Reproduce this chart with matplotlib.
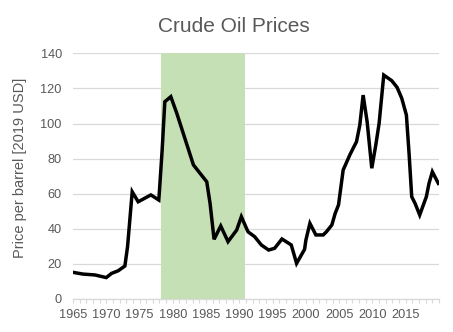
import matplotlib.pyplot as plt
import matplotlib as mpl
from matplotlib.ticker import MultipleLocator

mpl.rcParams['font.family'] = ['Liberation Sans', 'DejaVu Sans']

# ==============================================================================
# Data (year, price in 2019 USD)
years = [1965.0, 1966.5, 1968.3, 1970.0, 1970.8, 1971.8, 1972.8, 1973.2,
         1973.9, 1974.8, 1976.7, 1977.9, 1978.4, 1978.8, 1979.7, 1980.6,
         1982.3, 1983.1, 1985.1, 1985.6, 1986.2, 1987.2, 1988.3, 1989.6,
         1990.3, 1991.3, 1992.3, 1993.3, 1994.4, 1995.3, 1996.4, 1997.8,
         1998.6, 1999.8, 2000.0, 2000.6, 2001.5, 2002.6, 2003.1, 2003.9,
         2004.4, 2004.9, 2005.6, 2006.6, 2007.1, 2007.6, 2008.1, 2008.6,
         2009.2, 2009.9, 2010.5, 2011.0, 2011.7, 2012.9, 2013.7, 2014.4,
         2015.1, 2015.5, 2015.9, 2016.4, 2017.1, 2018.1, 2018.5, 2019.0,
         2019.9]
prices = [15.2, 14.2, 13.7, 12.2, 14.6, 16.1, 18.8, 29.8,
          61.1, 55.4, 59.3, 56.4, 84.9, 112.4, 115.3, 105.8,
          85.8, 76.4, 66.8, 54.5, 34.0, 41.6, 32.7, 39.3,
          46.9, 38.3, 35.5, 30.8, 27.9, 28.9, 34.2, 30.8,
          20.3, 28.3, 33.6, 43.1, 36.5, 36.5, 38.4, 42.2,
          48.8, 53.6, 73.5, 82.1, 85.9, 89.6, 99.1, 116.2,
          101.0, 74.5, 87.7, 100.1, 127.6, 124.4, 120.6, 114.4,
          104.8, 83.0, 58.3, 54.5, 47.9, 58.3, 65.9, 72.5,
          65.9]

# shaded period
shade_start = 1978.2
shade_end = 1990.85

text_col = '#595959'
grid_col = '#d9d9d9'

# ==============================================================================
fig = plt.figure(figsize=(4.53, 3.32), dpi=100)
ax = fig.add_axes([0.1611, 0.0994, 0.808, 0.740])

ax.axvspan(shade_start, shade_end, color='#c5e0b4', lw=0, zorder=1)
ax.plot(years, prices, color='black', lw=2.5, zorder=3,
        solid_joinstyle='miter')

ax.set_xlim(1965, 2020)
ax.set_ylim(0, 140)
ax.set_yticks(range(0, 141, 20))
ax.set_xticks(range(1965, 2016, 5))
ax.xaxis.set_minor_locator(MultipleLocator(1))

ax.grid(axis='y', color=grid_col, lw=0.9, zorder=0)
ax.set_axisbelow(True)

for s in ['top', 'right', 'left']:
    ax.spines[s].set_visible(False)
ax.spines['bottom'].set_color(grid_col)
ax.spines['bottom'].set_linewidth(0.9)

ax.tick_params(axis='y', length=0, pad=8, labelsize=9.2, labelcolor=text_col)
ax.tick_params(axis='x', which='both', direction='out', length=3,
               color=grid_col, width=0.8, pad=4, labelsize=9.2,
               labelcolor=text_col)

ax.set_ylabel('Price per barrel [2019 USD]', fontsize=10.5, color=text_col)
ax.yaxis.set_label_coords(-0.126, 0.533)

fig.text(0.517, 0.9036, 'Crude Oil Prices', fontsize=15, color=text_col,
         ha='center', va='baseline')

fig.savefig('out.png', dpi=100)
